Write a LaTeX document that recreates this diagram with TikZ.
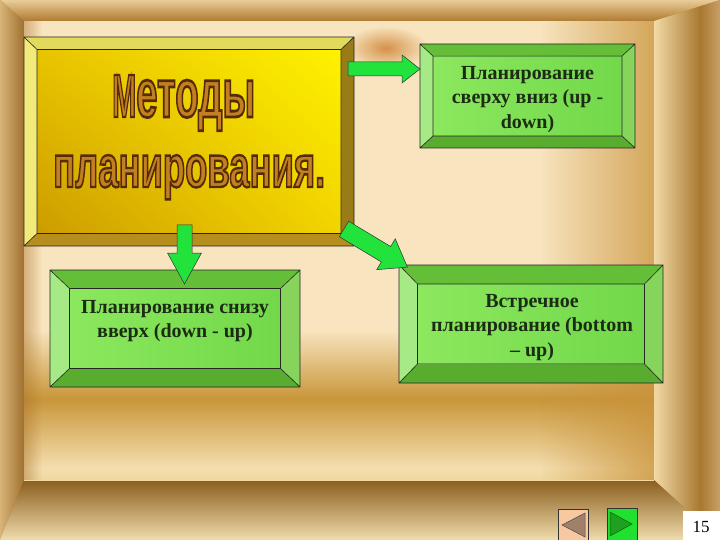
\documentclass[tikz,border=0pt]{standalone}
\usepackage{fontspec}
\setmainfont{Liberation Serif}
\newfontfamily\titlefont{Liberation Sans}
\usetikzlibrary{fadings,shadings}

\definecolor{frTopA}{HTML}{E8CC98}
\definecolor{frTopB}{HTML}{B07A30}
\definecolor{frLeftA}{HTML}{D8B478}
\definecolor{frLeftB}{HTML}{A07030}
\definecolor{frRA}{HTML}{F2DAA6}
\definecolor{frRB}{HTML}{A87830}
\definecolor{frRC}{HTML}{C8A068}
\definecolor{frBotA}{HTML}{8A5E1E}
\definecolor{frBotB}{HTML}{F0DCAC}
\definecolor{panel}{HTML}{F8E4BE}
\definecolor{pnlBot}{HTML}{F0D8A0}
\definecolor{pnlLight}{HTML}{F4DEAE}
\definecolor{pnlGold}{HTML}{C8963A}
\definecolor{goldband}{HTML}{C8923A}
\definecolor{shadowcol}{HTML}{A87028}
\definecolor{orangeglow}{HTML}{D4914A}
\definecolor{gTop}{HTML}{64BE38}
\definecolor{gLeft}{HTML}{A6EA86}
\definecolor{gRight}{HTML}{86D45C}
\definecolor{gBot}{HTML}{58AC2E}
\definecolor{gInA}{HTML}{8CE85E}
\definecolor{gInB}{HTML}{72D84A}
\definecolor{yTop}{HTML}{E2DA5A}
\definecolor{yLeft}{HTML}{F2EA7A}
\definecolor{yRight}{HTML}{9A7C16}
\definecolor{yBot}{HTML}{B68E1E}
\definecolor{yUL}{HTML}{E8C400}
\definecolor{yUR}{HTML}{FFF200}
\definecolor{yLL}{HTML}{CC9C00}
\definecolor{yLR}{HTML}{F2D400}
\definecolor{arrowGreen}{HTML}{22E23C}
\definecolor{txtDark}{HTML}{1C2C14}
\definecolor{titleMain}{HTML}{C47F22}
\definecolor{navPeach}{HTML}{F8C8A0}
\definecolor{navBrown}{HTML}{A08068}
\definecolor{navGreen}{HTML}{20E030}
\definecolor{navDark}{HTML}{20A020}

\pgfdeclareverticalshading{panelv}{100bp}{color(0bp)=(pnlBot); color(25bp)=(pnlBot); color(29bp)=(pnlLight); color(52bp)=(pnlGold); color(75bp)=(panel); color(100bp)=(panel)}
\pgfdeclarehorizontalshading{frright}{100bp}{color(0bp)=(frRA); color(25bp)=(frRA); color(60bp)=(frRB); color(75bp)=(frRC); color(100bp)=(frRC)}

\tikzfading[name=fadeinright, left color=transparent!100, right color=transparent!0]
\tikzfading[name=fadeoutright, left color=transparent!0, right color=transparent!100]

% outlined text: fill with current colour, stroke dark brown
\newcommand\outlined[1]{\special{pdf:literal direct 2 Tr 2.0 w 0.33 0.17 0.02 RG}#1\special{pdf:literal direct 0 Tr}}

\newcommand\mkbevel[7]{%
  \fill[#7top] (#1,#2) -- (#3,#2) -- (#3-#5,#2+#6) -- (#1+#5,#2+#6) -- cycle;
  \fill[#7left] (#1,#2) -- (#1+#5,#2+#6) -- (#1+#5,#4-#6) -- (#1,#4) -- cycle;
  \fill[#7right] (#3,#2) -- (#3,#4) -- (#3-#5,#4-#6) -- (#3-#5,#2+#6) -- cycle;
  \fill[#7bot] (#1,#4) -- (#3,#4) -- (#3-#5,#4-#6) -- (#1+#5,#4-#6) -- cycle;
  \shade[#7in] (#1+#5,#2+#6) rectangle (#3-#5,#4-#6);
  \draw[edge] (#1,#2) rectangle (#3,#4) (#1+#5,#2+#6) rectangle (#3-#5,#4-#6)
    (#1,#2) -- (#1+#5,#2+#6) (#3,#2) -- (#3-#5,#2+#6)
    (#1,#4) -- (#1+#5,#4-#6) (#3,#4) -- (#3-#5,#4-#6);
}

\newcommand\mkarrow[6]{% #1 start coord, #2 angle, #3 length, #4 shaft half, #5 head half, #6 head length
  \begin{scope}[shift={(#1)}, rotate=#2]
    \draw[blockarrow] (0,-#4) -- (#3-#6,-#4) -- (#3-#6,-#5) -- (#3,0) -- (#3-#6,#5) -- (#3-#6,#4) -- (0,#4) -- cycle;
  \end{scope}
}

\begin{document}
\begin{tikzpicture}[x=1pt,y=-1pt,
  edge/.style={draw=black!85, line width=0.6pt},
  gtop/.style={fill=gTop}, gleft/.style={fill=gLeft}, gright/.style={fill=gRight}, gbot/.style={fill=gBot},
  gin/.style={left color=gInA, right color=gInB},
  ytop/.style={fill=yTop}, yleft/.style={fill=yLeft}, yright/.style={fill=yRight}, ybot/.style={fill=yBot},
  yin/.style={upper left=yUL, upper right=yUR, lower left=yLL, lower right=yLR},
  blockarrow/.style={fill=arrowGreen, draw=black!80, line width=0.5pt, line join=miter},
  boxtext/.style={font=\fontsize{20}{24.5}\selectfont\bfseries, text=txtDark, align=center, inner sep=0pt},
  titletext/.style={inner sep=0pt, anchor=base west, text=titleMain, font=\fontsize{50}{50}\titlefont\bfseries},
]
\useasboundingbox (0,0) rectangle (720,540);

% ---- background frame ----
\fill[frTopB] (0,0) rectangle (720,540);
\shade[top color=frTopA, bottom color=frTopB] (0,0) -- (720,0) -- (654,21) -- (24,21) -- cycle;
\shade[left color=frLeftA, right color=frLeftB] (0,0) -- (24,21) -- (24,480) -- (0,540) -- cycle;
\shade[shading=frright] (720,0) -- (720,540) -- (654,480) -- (654,21) -- cycle;
\shade[top color=frBotA, bottom color=frBotB] (0,540) -- (24,480) -- (654,480) -- (720,540) -- cycle;

% ---- inner panel ----
\fill[panel] (24,21) rectangle (654,480);
\shade[shading=panelv] (24,330) rectangle (654,480);
\fill[goldband, path fading=fadeinright, fill opacity=0.75] (540,21) rectangle (654,480);
\fill[shadowcol, path fading=fadeoutright, fill opacity=0.45] (24,21) rectangle (42,480);
\shade[inner color=orangeglow, outer color=panel] (386,48) ellipse [x radius=42, y radius=22];

% ---- main yellow box ----
\mkbevel{24}{37}{354}{246}{13}{12.5}{y}
\coordinate (mainbox) at (189,141);
\node[titletext] (title1) at (112,117) {\resizebox{24pt}{42pt}{\outlined{М}}\resizebox{119pt}{37pt}{\outlined{етоды}}};
\node[titletext] (title2) at (53,187) {\resizebox{272pt}{32pt}{\outlined{планирования.}}};

% ---- green boxes ----
\mkbevel{420}{44}{635}{148}{13}{12}{g}
\node[boxtext] (topdown) at (527.5,99.3) {Планирование\\сверху вниз (up -\\down)};

\mkbevel{50}{270}{300}{387}{19.5}{18.5}{g}
\node[boxtext] (bottomup) at (175,321.3) {Планирование снизу\\вверх (down - up)};

\mkbevel{399}{265}{663}{383}{18.5}{19}{g}
\node[boxtext] (meet) at (532,327.3) {Встречное\\планирование (bottom\\– up)};

% ---- block arrows ----
\coordinate (a1) at (348,69);
\coordinate (a2) at (184.5,225);
\coordinate (a3) at (344,229);
\mkarrow{a1}{0}{72}{7}{14}{18}
\mkarrow{a2}{-90}{59}{7.5}{17}{31}
\mkarrow{a3}{-31}{74}{9}{18}{25}

% ---- navigation ----
\draw[fill=navPeach, draw=black!80, line width=0.6pt] (558,509) rectangle (588,541);
\draw[fill=navBrown, draw=black!70, line width=0.5pt] (562,525) -- (585,513) -- (585,537) -- cycle;
\draw[fill=navGreen, draw=black!80, line width=0.6pt] (607,508) rectangle (637,541);
\draw[fill=navDark, draw=black!60!green, line width=0.5pt] (610,512) -- (632,524) -- (610,536) -- cycle;
\fill[white] (683,511) rectangle (721,541);
\node[inner sep=0pt, font=\fontsize{17}{17}\selectfont] (pagenum) at (701,527) {15};
\end{tikzpicture}
\end{document}
